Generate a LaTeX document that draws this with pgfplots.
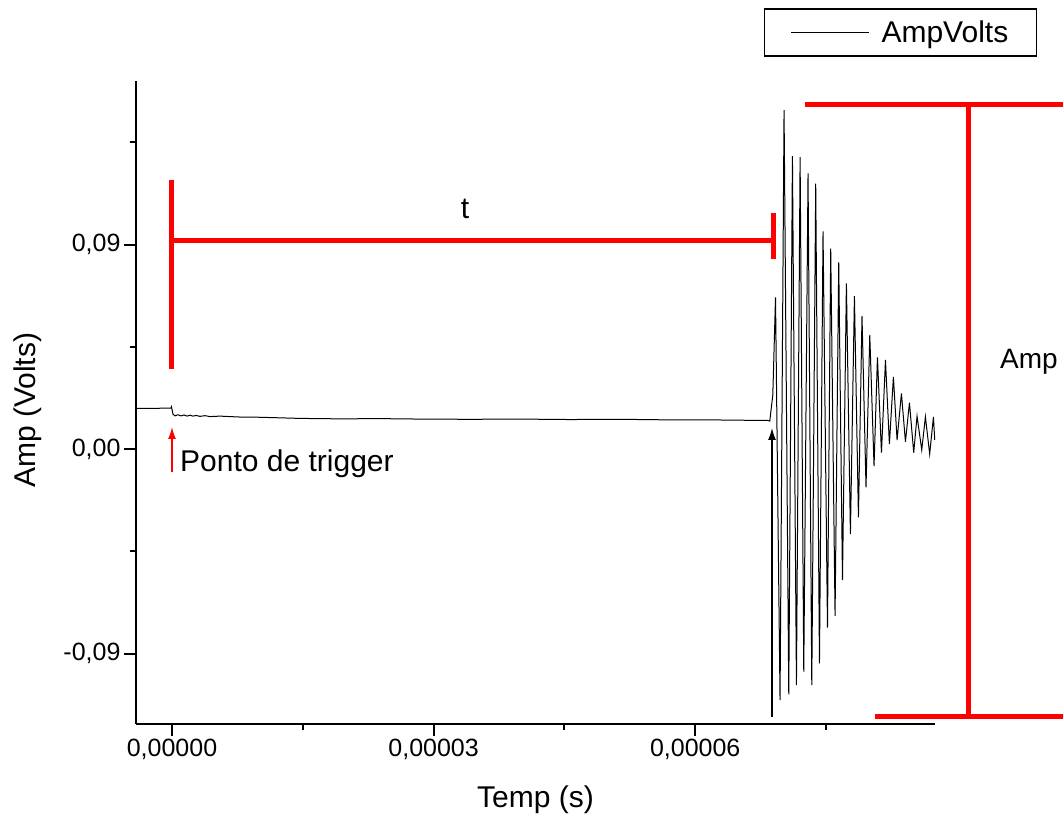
\documentclass[border=0pt]{standalone}
\usepackage{fontspec}
\setmainfont{Liberation Sans}
\usepackage{pgfplots}
\pgfplotsset{compat=1.18}
\usetikzlibrary{arrows.meta}

\newcommand{\ticksize}{\fontsize{25}{29}\selectfont}
\newcommand{\labsize}{\fontsize{30}{34}\selectfont}

\begin{document}
\begin{tikzpicture}[x=1pt,y=1pt]
\useasboundingbox (0,0) rectangle (1063,821);
\begin{axis}[
  at={(136pt,97pt)}, anchor=south west,
  scale only axis, width=799pt, height=643pt,
  xmin=-4.13e-6, xmax=8.75e-5,
  ymin=-0.121, ymax=0.162,
  axis x line*=bottom, axis y line*=left,
  axis line style={line width=2pt, -},
  xtick={0,3e-5,6e-5},
  minor xtick={1.5e-5,4.5e-5,7.5e-5},
  ytick={-0.09,0,0.09},
  minor ytick={-0.045,0.045,0.135},
  scaled x ticks=false, scaled y ticks=false,
  tick align=outside,
  major tick length=12pt, minor tick length=6pt,
  every tick/.style={line width=2pt, black},
  /pgf/number format/assume math mode=true,
  xticklabel style={font=\ticksize, /pgf/number format/.cd, fixed, fixed zerofill, precision=5, use comma},
  yticklabel style={font=\ticksize, /pgf/number format/.cd, fixed, fixed zerofill, precision=2, use comma},
  xlabel={Temp (s)}, ylabel={Amp (Volts)},
  label style={font=\labsize},
  xlabel style={at={(axis description cs:0.5,-0.118)}, anchor=center},
  ylabel style={at={(axis description cs:-0.135,0.488)}, anchor=center},
  legend style={at={(1.1277,1.1135)}, anchor=north east, draw=black, line width=1.5pt,
    font=\labsize, inner xsep=26pt, inner ysep=10pt, column sep=10pt},
  legend image code/.code={\draw[#1] (0pt,0pt) -- (78pt,0pt);},
  clip=false,
]
\addplot[black, line width=1pt] coordinates {
  (-4.01e-6,0.0179) (-0.11e-6,0.0180) (-0.06e-6,0.0186) (0.11e-6,0.0154)
  (0.34e-6,0.0146) (0.69e-6,0.0151) (1.03e-6,0.0146) (1.38e-6,0.0150)
  (1.72e-6,0.0145) (2.06e-6,0.0149) (2.41e-6,0.0145) (2.75e-6,0.0148)
  (3.21e-6,0.0144) (3.78e-6,0.0147) (4.36e-6,0.0143) (5.50e-6,0.0145)
  (7.79e-6,0.0141) (10.09e-6,0.0140) (14.67e-6,0.0135) (19.26e-6,0.0133)
  (23.84e-6,0.0134) (28.43e-6,0.0132) (34.16e-6,0.0131) (39.89e-6,0.0132)
  (45.62e-6,0.0130) (51.35e-6,0.0131) (55.94e-6,0.0129) (60.52e-6,0.0129)
  (65.11e-6,0.0127) (68.32e-6,0.0126) (68.55e-6,0.0123) (68.90e-6,0.0238)
  (69.21e-6,0.0668) (69.73e-6,-0.1105) (70.19e-6,0.1492) (70.73e-6,-0.1080)
  (71.15e-6,0.1289) (71.61e-6,-0.1039) (72.03e-6,0.1285) (72.45e-6,-0.0980)
  (72.94e-6,0.1213) (73.37e-6,-0.1039) (73.82e-6,0.1168) (74.25e-6,-0.0943)
  (74.66e-6,0.0958) (75.17e-6,-0.0786) (75.54e-6,0.0882) (76.04e-6,-0.0734)
  (76.46e-6,0.0822) (76.89e-6,-0.0577) (77.34e-6,0.0729) (77.80e-6,-0.0374)
  (78.26e-6,0.0673) (78.72e-6,-0.0301) (79.13e-6,0.0585) (79.59e-6,-0.0169)
  (80.02e-6,0.0502) (80.51e-6,-0.0075) (80.90e-6,0.0404) (81.36e-6,-0.0016)
  (81.82e-6,0.0392) (82.27e-6,0.0022) (82.73e-6,0.0318) (83.15e-6,0.0040)
  (83.65e-6,0.0245) (84.11e-6,0.0032) (84.57e-6,0.0204) (85.06e-6,-0.0016)
  (85.44e-6,0.0145) (85.98e-6,-0.0004) (86.40e-6,0.0142) (86.89e-6,-0.0022)
  (87.32e-6,0.0142) (87.47e-6,0.0040)
};
\addlegendentry{AmpVolts}
\end{axis}

% annotations, in picture pixels (y downwards)
\begin{scope}[y=-1pt, shift={(0pt,821pt)}]
  \draw[red, line width=5pt] (171,180) -- (171,369);
  \draw[red, line width=5pt] (171,241) -- (773,241);
  \draw[red, line width=5pt] (773,213) -- (773,259);
  \draw[red, line width=5pt] (805,105) -- (1063,105);
  \draw[red, line width=5pt] (875,717) -- (1063,717);
  \draw[red, line width=5pt] (968,105) -- (968,717);
  \draw[red, line width=1.5pt, -{Latex[length=12pt,width=8pt]}] (172,472) -- (172,427);
  \draw[black, line width=1.5pt, -{Latex[length=12pt,width=8pt]}] (772,717) -- (772,428);
  \node[font=\labsize, anchor=base west, inner sep=0pt] at (180,472) {Ponto de trigger};
  \node[font=\labsize, anchor=base, inner sep=0pt] at (465,219) {t};
  \node[font=\fontsize{28}{32}\selectfont, anchor=base, inner sep=0pt] at (1029,369) {Amp};
\end{scope}
\end{tikzpicture}
\end{document}
